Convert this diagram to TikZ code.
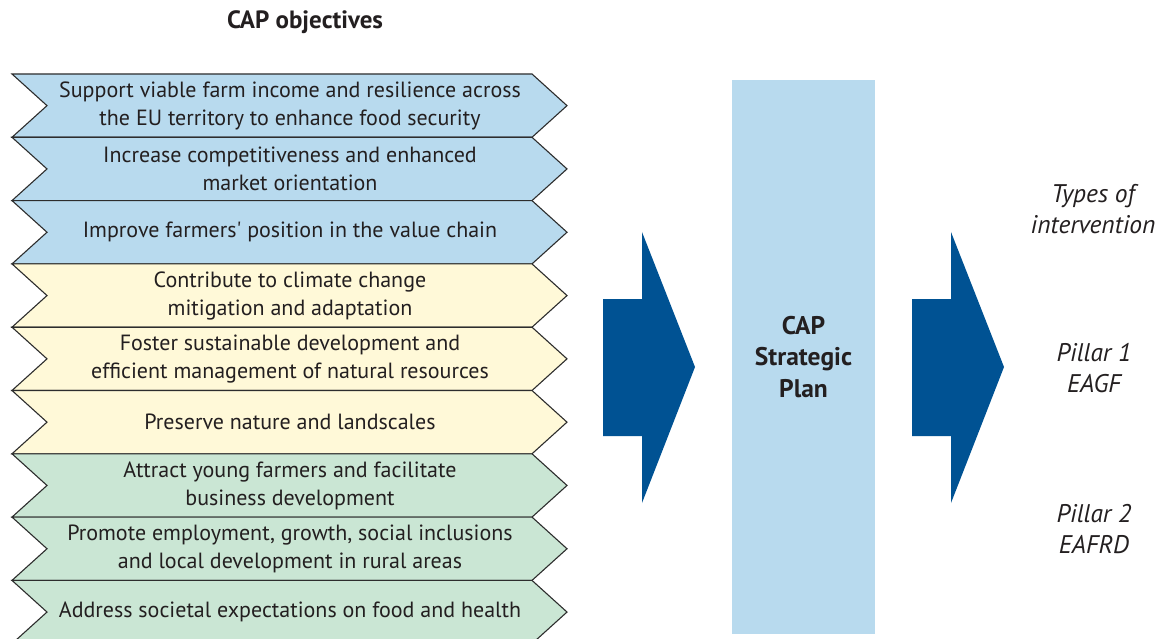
\documentclass[tikz,border=0pt]{standalone}
\usepackage{fontspec}
\setmainfont{PT Sans}
\usetikzlibrary{positioning}
\definecolor{mblue}{RGB}{184, 218, 238}
\definecolor{myellow}{RGB}{255, 249, 216}
\definecolor{mgreen}{RGB}{202, 230, 212}
\definecolor{mdarkblue}{RGB}{0, 82, 147}
\definecolor{mtext}{RGB}{35, 31, 32}
\definecolor{mline}{RGB}{45, 45, 45}
\tikzset{chev/.style = {draw=mline, line width=1.1pt, line join=miter}}
\tikzset{objtext/.style = {align=center, text=mtext, font=\fontsize{22}{28}\selectfont}}
\tikzset{sidetext/.style = {align=center, text=mtext, font=\fontsize{25.5}{31}\selectfont\itshape}}

\begin{document}
\begin{tikzpicture}[x=1pt, y=-1pt]
      \useasboundingbox (0, 0) rectangle (1162, 639);
      \clip (0, 0) rectangle (1162, 639);

      \node [text=mtext, font=\fontsize{25}{28}\selectfont\bfseries] (objectives) at (305, 22) {CAP objectives};

      \foreach \i/\col/\txt in {
          0/mblue/{Support viable farm income and resilience across\\the EU territory to enhance food security},
          1/mblue/{Increase competitiveness and enhanced\\market orientation},
          2/mblue/{Improve farmers\textquotesingle\ position in the value chain},
          3/myellow/{Contribute to climate change\\mitigation and adaptation},
          4/myellow/{Foster sustainable development and\\efficient management of natural resources},
          5/myellow/{Preserve nature and landscales},
          6/mgreen/{Attract young farmers and facilitate\\business development},
          7/mgreen/{Promote employment, growth, social inclusions\\and local development in rural areas},
          8/mgreen/{Address societal expectations on food and health}} {
        \pgfmathsetmacro{\yt}{74 + 63.3 * \i};
        \pgfmathsetmacro{\yb}{\yt + 63.3};
        \pgfmathsetmacro{\ym}{\yt + 31.65};
        \draw [chev, fill=\col] (12, \yt) -- (532, \yt) -- (567, \ym) -- (532, \yb)
          -- (12, \yb) -- (47, \ym) -- cycle;
        \node [objtext] (obj\i) at (290, \ym) {\txt};
      }

      \foreach \dx in {0, 309} {
        \fill [mdarkblue] (603 + \dx, 299) -- (642 + \dx, 299) -- (642 + \dx, 232)
          -- (695 + \dx, 367) -- (642 + \dx, 503) -- (642 + \dx, 436) -- (603 + \dx, 436) -- cycle;
      }

      \node [fill=mblue, minimum width=143, minimum height=554, inner sep=0,
        align=center, text=mtext, font=\fontsize{25.5}{31.5}\selectfont\bfseries]
        (plan) at (803.5, 357) {CAP\\Strategic\\Plan};

      \node [sidetext] (types) at (1093, 209) {Types of\\intervention};
      \node [sidetext] (pillar1) at (1094, 368) {Pillar 1\\EAGF};
      \node [sidetext] (pillar2) at (1094, 529) {Pillar 2\\EAFRD};
    \end{tikzpicture}
\end{document}
